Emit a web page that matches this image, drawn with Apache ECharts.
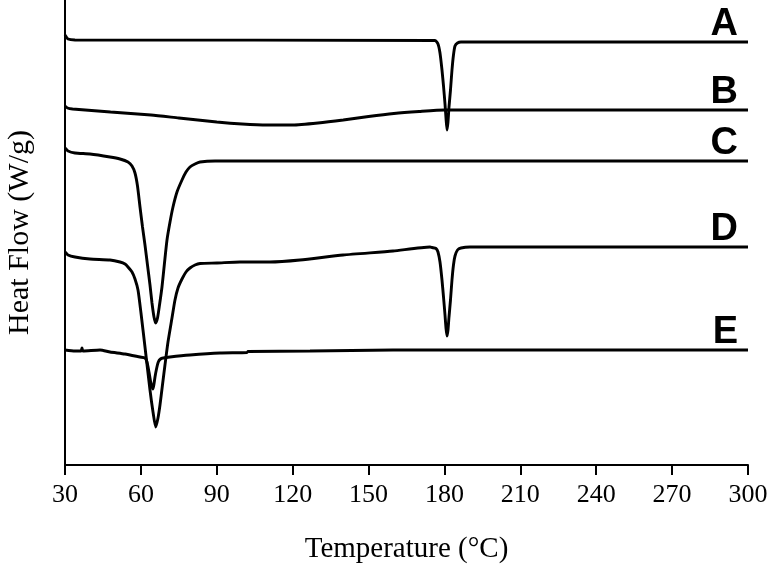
<!DOCTYPE html>
<html>
<head>
<meta charset="utf-8">
<script src="https://cdn.jsdelivr.net/npm/echarts@6/dist/echarts.min.js"></script>
<style>html,body{margin:0;padding:0;background:#fff}#c{width:774px;height:566px}</style>
</head>
<body>
<div id="c"></div>
<script>
// Temperature (°C) and heat flow (offset, arbitrary units)
var xTicks = [30, 60, 90, 120, 150, 180, 210, 240, 270, 300];
var names = ['A', 'B', 'C', 'D', 'E'];

var tempA = [30, 31.19, 33.95, 176.26, 177.45, 178.24, 179.03, 179.63, 180.22, 180.61, 181.01, 181.4, 181.8, 182.39, 182.98, 183.57, 184.17, 185.16, 186.54, 300];
var flowA = [430, 426, 425, 424.5, 421, 412, 395, 379, 361, 347, 335, 343, 358, 375, 395, 410, 419, 422, 423, 423];

var tempB = [30, 31, 33, 48, 64, 75, 90, 100, 110, 120, 130, 140, 150, 160, 170, 180, 300];
var flowB = [359, 357, 356, 353, 350, 347, 343, 341, 340, 340, 342, 345, 348.5, 351.5, 353.5, 355, 355];

var tempC = [30, 31.19, 33.95, 39.88, 47.79, 51.74, 54.9, 56.49, 57.67, 58.66, 59.65, 60.64, 61.62, 62.61, 63.6, 64.39, 65.18, 65.85, 66.57, 67.36, 68.34, 69.33, 70.32, 71.51, 72.69, 74.27, 76.25, 77.83, 79.41, 81.39, 83.37, 89.3, 300];
var flowC = [317, 314, 312, 311, 308, 306, 303, 299, 292, 279, 258, 238, 220, 200, 180, 162, 148, 142, 147, 160, 178, 202, 225, 243, 258, 273, 285, 293, 298, 301, 303, 304, 304];

var tempD = [30, 31.19, 33.95, 39.88, 47.79, 51.74, 53.72, 54.9, 56.49, 57.67, 58.86, 60.04, 61.62, 63.6, 64.79, 65.85, 66.76, 67.55, 68.53, 69.52, 70.71, 72.29, 73.48, 74.67, 76.25, 77.83, 79.41, 81.39, 83.37, 90.09, 99.18, 111.04, 122.9, 139.9, 159.66, 174.29, 175.08, 176.66, 177.45, 178.24, 179.03, 179.63, 180.22, 180.61, 181.01, 181.4, 181.8, 182.39, 182.98, 183.57, 184.17, 185.16, 186.54, 190.1, 300];
var flowD = [213, 210, 208, 206, 205, 203, 201, 198, 193, 186, 175, 152, 118, 75, 53, 38, 47, 60, 80, 100, 123, 147, 165, 177, 186, 193, 197, 200, 201.5, 202, 203, 203, 205, 210, 214, 218, 217.5, 216.5, 213, 203, 185, 168, 150, 137, 129, 135, 148, 165, 185, 200, 209, 215, 217, 218, 218];

var tempE = [30, 33.95, 36.32, 36.72, 37.12, 43.84, 47.79, 53.72, 59.65, 61.62, 62.41, 63.2, 63.8, 64.39, 64.79, 65.18, 65.58, 66.17, 66.88, 67.75, 68.86, 71.51, 79.41, 91.27, 101.95, 102.34, 126.85, 159.66, 300];
var flowE = [115, 114, 114, 117, 114, 115, 113, 111, 108, 107, 103, 93, 84, 78, 76, 81, 88, 96, 103, 106, 107, 108, 110, 112, 112.5, 113.5, 114, 115, 115];

function pairs(t, v) { return t.map(function (x, i) { return [x, v[i]]; }); }
var temps = [tempA, tempB, tempC, tempD, tempE];
var flows = [flowA, flowB, flowC, flowD, flowE];

var series = names.map(function (n, i) {
  return {
    name: n,
    type: 'line',
    data: pairs(temps[i], flows[i]),
    showSymbol: false,
    symbol: 'none',
    smooth: 0.2,
    lineStyle: { color: '#000', width: 2.9 },
    itemStyle: { color: '#000' },
    silent: true,
    animation: false,
    endLabel: {
      show: true,
      formatter: '{a}',
      color: '#000',
      fontFamily: 'Liberation Sans, Arial',
      fontWeight: 'bold',
      fontSize: 38,
      align: 'right',
      verticalAlign: 'bottom',
      offset: [-18, 2]
    }
  };
});

var chart = echarts.init(document.getElementById('c'), null, { renderer: 'canvas' });
chart.setOption({
  animation: false,
  backgroundColor: '#fff',
  grid: { left: 65, right: 26, top: 0, bottom: 101, containLabel: false, outerBoundsMode: 'none' },
  xAxis: {
    type: 'value',
    min: xTicks[0],
    max: xTicks[xTicks.length - 1],
    interval: 30,
    name: 'Temperature (°C)',
    nameLocation: 'middle',
    nameGap: 70,
    nameTextStyle: { fontFamily: 'Liberation Serif, Times New Roman', fontSize: 29, color: '#000' },
    axisLine: { lineStyle: { color: '#000', width: 2 } },
    axisTick: { show: true, inside: false, length: 10, lineStyle: { color: '#000', width: 2 } },
    axisLabel: { fontFamily: 'Liberation Serif, Times New Roman', fontSize: 26, color: '#000', margin: 17 },
    splitLine: { show: false }
  },
  yAxis: {
    type: 'value',
    min: 0,
    max: 465,
    name: 'Heat Flow (W/g)',
    nameLocation: 'middle',
    nameGap: 30,
    nameRotate: 90,
    nameTextStyle: { fontFamily: 'Liberation Serif, Times New Roman', fontSize: 30, color: '#000' },
    axisLine: { show: true, lineStyle: { color: '#000', width: 2 } },
    axisTick: { show: false },
    axisLabel: { show: false },
    splitLine: { show: false }
  },
  series: series
});
</script>
</body>
</html>
